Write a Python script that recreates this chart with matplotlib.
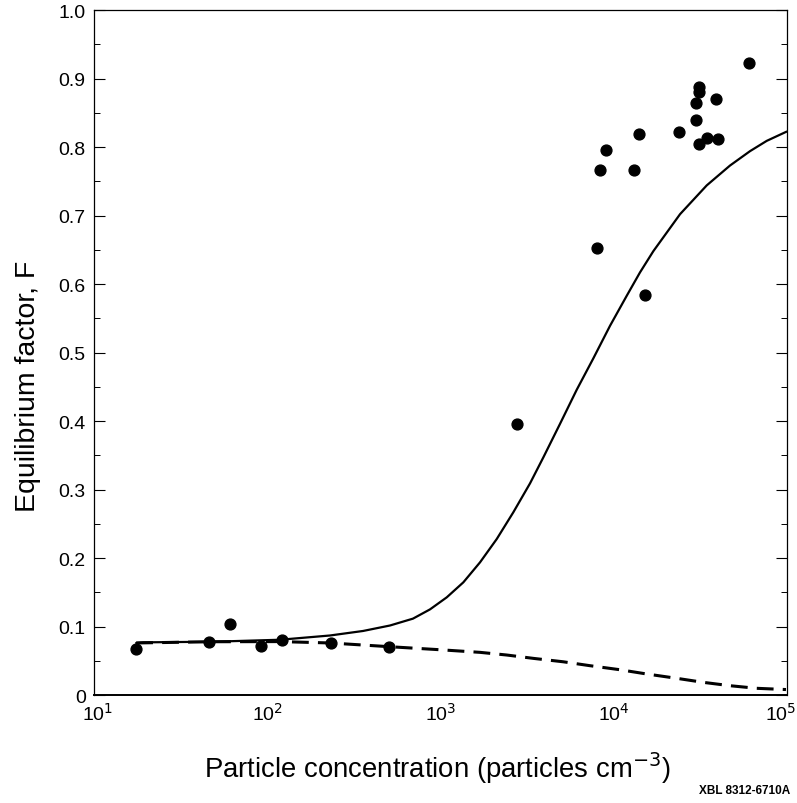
import numpy as np
import matplotlib
matplotlib.use("Agg")
import matplotlib.pyplot as plt
import matplotlib.transforms as mtransforms
from matplotlib.ticker import MultipleLocator, FixedFormatter, FixedLocator

plt.rcParams['font.family'] = ['Liberation Sans', 'DejaVu Sans']

# measured points (particle concentration, equilibrium factor)
conc = [17.5, 46, 61, 92, 122, 233, 505, 2770, 7980, 8300, 9020, 13100, 13900, 15100,
        23900, 30000, 30000, 31000, 31000, 31000, 34700, 38800, 40000, 60500]
F = [0.067, 0.078, 0.103, 0.072, 0.081, 0.076, 0.070, 0.396, 0.653, 0.766, 0.796, 0.766,
     0.819, 0.584, 0.822, 0.864, 0.840, 0.887, 0.880, 0.804, 0.813, 0.870, 0.812, 0.922]

# model curve, solid
solid_x = [17.5, 19.3, 48.6, 118.5, 230, 357, 511, 693, 869, 1086, 1354, 1690, 2110,
           2630, 3285, 3922, 4896, 6112, 7621, 9515, 11880, 14170, 16920, 24130,
           34400, 46880, 61170, 76360, 99500]
solid_F = [0.076, 0.0769, 0.0778, 0.0807, 0.0869, 0.0935, 0.1015, 0.1115, 0.125, 0.1426,
           0.1645, 0.1937, 0.2277, 0.2667, 0.309, 0.347, 0.396, 0.4457, 0.4915, 0.5391,
           0.5829, 0.617, 0.648, 0.702, 0.744, 0.773, 0.794, 0.809, 0.8225]

# model curve, dashed
dash_x = [17.5, 48.6, 118.5, 230, 511, 993, 1690, 2410, 3434, 5117, 7295, 10870,
          15490, 23070, 32870, 46880, 66820, 98600]
dash_F = [0.076, 0.0778, 0.078, 0.076, 0.0705, 0.0661, 0.0623, 0.0584, 0.0535, 0.0485,
          0.0428, 0.0369, 0.0307, 0.0244, 0.0185, 0.0136, 0.0098, 0.008]

ytick_labels = ['0', '0.1', '0.2', '0.3', '0.4', '0.5', '0.6', '0.7', '0.8', '0.9', '1.0']
xticks = [1e1, 1e2, 1e3, 1e4, 1e5]
xtick_labels = ['10$^1$', '10$^2$', '10$^3$', '10$^4$', '10$^5$']
xlabel_shift = [4, 0, 0, 0, -6]   # px, keeps end labels clear of "0" and the edge

fig = plt.figure(figsize=(7.97, 8.04), dpi=100)
ax = fig.add_axes([0.118, 0.1343, 0.8695, 0.852])

ax.plot(solid_x, solid_F, color='black', lw=1.6, solid_capstyle='round')
ax.plot(dash_x, dash_F, color='black', lw=2.2, dashes=(5.5, 3))
ax.plot(conc, F, 'o', color='black', ms=7.8, mec='black')

ax.set_xscale('log')
ax.set_xlim(10, 1e5)
ax.set_ylim(0, 1.0)

ax.yaxis.set_major_locator(FixedLocator(np.arange(0, 1.01, 0.1)))
ax.yaxis.set_major_formatter(FixedFormatter(ytick_labels))
ax.yaxis.set_minor_locator(MultipleLocator(0.05))
ax.tick_params(axis='y', which='major', direction='in', length=8, width=0.8,
               left=True, right=True, labelsize=14, pad=6)
ax.tick_params(axis='y', which='minor', direction='in', length=4, width=0.7,
               left=True, right=True)
ax.set_xticks(xticks)
ax.xaxis.set_minor_locator(FixedLocator([]))
ax.tick_params(axis='x', which='both', length=0, labelbottom=False)

# x tick labels drawn by hand
for xv, lab, dx in zip(xticks, xtick_labels, xlabel_shift):
    t = ax.get_xaxis_transform() + mtransforms.ScaledTranslation(dx/100, -7/100, fig.dpi_scale_trans)
    ax.text(xv, 0, lab, transform=t, ha='center', va='top', fontsize=14)

for side in ['left', 'right', 'top']:
    ax.spines[side].set_linewidth(0.9)
ax.spines['bottom'].set_linewidth(1.4)

fig.text(0.035, 0.52, 'Equilibrium factor, F', fontsize=20.5, rotation=90,
         ha='center', va='center')
fig.text(0.549, 0.045, 'Particle concentration (particles cm$^{-3}$)', fontsize=19.8,
         ha='center', va='center')
fig.text(0.992, 0.016, 'XBL 8312-6710A', fontsize=8.5, fontweight='bold',
         ha='right', va='center')

fig.savefig('out.png', dpi=100)
